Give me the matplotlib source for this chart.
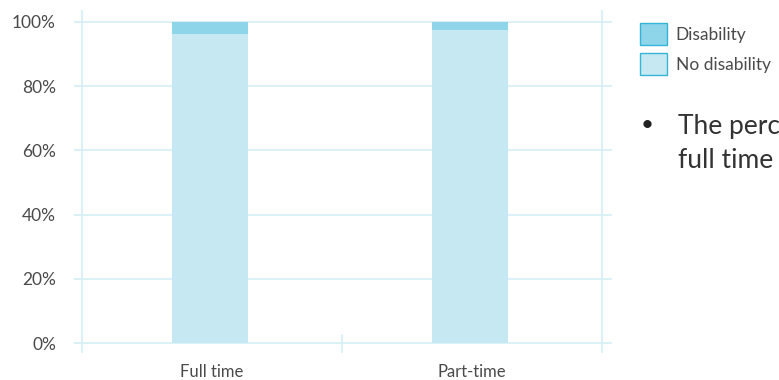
import matplotlib
matplotlib.use("Agg")
import matplotlib.pyplot as plt
import matplotlib.patches as patches

# data
categories = ["Full time", "Part-time"]
no_disability = [0.963, 0.975]
disability = [0.037, 0.025]
y_ticks = [0, 0.2, 0.4, 0.6, 0.8, 1.0]
y_labels = ["0%", "20%", "40%", "60%", "80%", "100%"]
legend_labels = ["Disability", "No disability"]
note_text = "The percentage of employees\nfull time"

plt.rcParams['font.family'] = ['Lato', 'DejaVu Sans']

grid_col = '#d5edf6'
light_col = '#c6e8f3'
dark_col = '#8fd5ea'
edge_col = '#33b5d6'
text_col = '#4a4a4a'

W, H = 779, 380
fig = plt.figure(figsize=(W / 100, H / 100), dpi=100)
# axes spans pixels x 74..612, y 10..353
ax = fig.add_axes([74 / W, 1 - 353 / H, (612 - 74) / W, (353 - 10) / H])

px_per_unit = 260.0
ax.set_xlim(-0.5 - 8 / px_per_unit, 1.5 + 10 / px_per_unit)
ax.set_ylim(-10 / 321, 1 + 12 / 321)

for y in y_ticks:
    ax.axhline(y, color=grid_col, lw=1.2, zorder=0)
for x in [-0.5, 1.5]:
    ax.axvline(x, color=grid_col, lw=1.2, zorder=0)
ax.plot([0.5, 0.5], [-10 / 321, 8 / 321], color=grid_col, lw=1.2, zorder=0)

xs = [i - 0.008 for i in range(len(categories))]
ax.bar(xs, no_disability, width=0.292, color=light_col, zorder=2)
ax.bar(xs, disability, bottom=no_disability, width=0.292, color=dark_col, zorder=2)

ax.set_yticks(y_ticks)
ax.set_yticklabels(y_labels)
ax.set_xticks(range(len(categories)))
ax.set_xticklabels(categories)
ax.tick_params(axis='y', length=0, pad=13, labelsize=12.5, labelcolor=text_col)
ax.tick_params(axis='x', length=0, pad=8, labelsize=12, labelcolor=text_col)
for s in ax.spines.values():
    s.set_visible(False)

handles = [patches.Patch(facecolor=dark_col, edgecolor=edge_col, lw=1),
           patches.Patch(facecolor=light_col, edgecolor=edge_col, lw=1)]
fig.legend(handles, legend_labels, loc='upper left',
           bbox_to_anchor=(640 / W, 1 - 23 / H), frameon=False,
           fontsize=12.5, handlelength=1.55, handleheight=1.55,
           labelspacing=0.5, handletextpad=0.5, borderpad=0, borderaxespad=0,
           labelcolor=text_col)

fig.text(641 / W, 1 - 125 / H, "\u2022", fontsize=16, color='#222222', va='center')
fig.text(678 / W, 1 - 114 / H, note_text, fontsize=19, color='#333333',
         va='top', linespacing=1.45)

fig.savefig("out.png", dpi=100)
